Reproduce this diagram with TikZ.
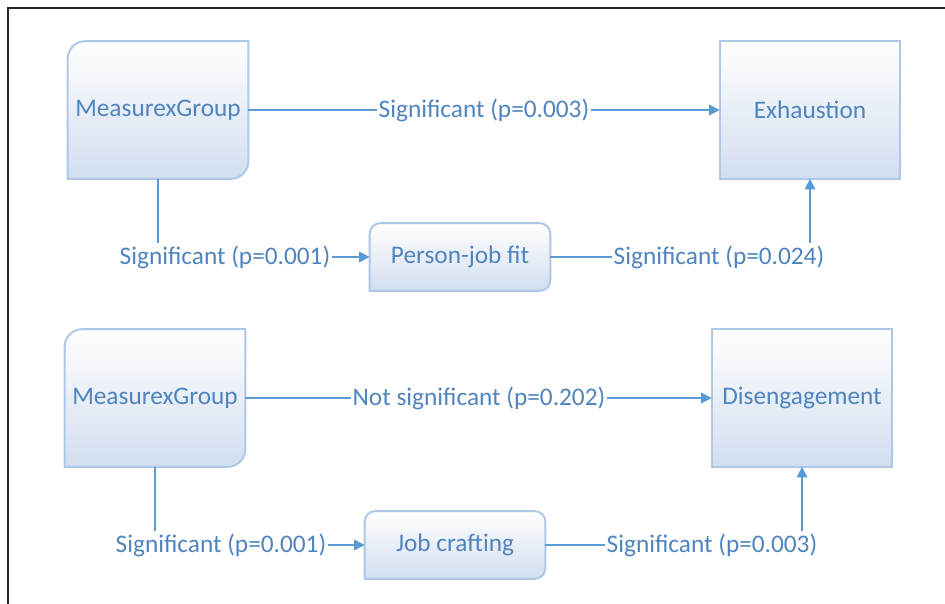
\documentclass[tikz,border=0pt]{standalone}
\usepackage{fontspec}
\setmainfont{Carlito}
\usetikzlibrary{arrows.meta,positioning}

\definecolor{linkblue}{RGB}{91,155,213}
\definecolor{textblue}{RGB}{79,132,190}
\definecolor{boxedge}{RGB}{172,199,232}
\definecolor{boxfill}{RGB}{210,222,239}

\tikzset{
  varbox/.style={text=textblue, inner sep=0pt,
    minimum width=3.6cm, minimum height=2.74cm, font=\fontsize{14.4}{16}\selectfont},
  medbox/.style={varbox, minimum height=1.34cm},
  boxpaint/.style={draw=boxedge, line width=1.1pt, top color=white,
    middle color=boxfill, bottom color=boxfill},
  plab/.style={text=textblue, inner sep=1pt, font=\fontsize{14.4}{16}\selectfont},
  link/.style={draw=linkblue, line width=1.1pt},
  arr/.style={link, -{Triangle[length=6pt,width=6pt]}}
}

% outlines: rounded top left and bottom right
\newcommand{\causeframe}[1]{%
  \path[boxpaint] (#1.north) -- (#1.north east) [rounded corners=10pt] -- (#1.south east)
    [sharp corners] -- (#1.south west) [rounded corners=10pt] -- (#1.north west)
    [sharp corners] -- cycle;}
% outlines: all rounded but bottom left
\newcommand{\medframe}[1]{%
  \path[boxpaint] (#1.north) [rounded corners=6pt] -- (#1.north east) -- (#1.south east)
    [sharp corners] -- (#1.south west) [rounded corners=6pt] -- (#1.north west)
    [sharp corners] -- cycle;}
\newcommand{\outframe}[1]{%
  \path[boxpaint] (#1.north west) rectangle (#1.south east);}

\begin{document}
\begin{tikzpicture}[x=0.02cm, y=-0.02cm]
  \useasboundingbox (0,0) rectangle (945,604);
  \draw[black!85, line width=1.2pt] (8,604) -- (8,8) -- (945,8);

  % exhaustion model
  \node[varbox] (mgA) at (158,110) {};
  \node[varbox] (exhaustion) at (810,110) {};
  \node[medbox] (pjfit) at (460,257) {};
  \causeframe{mgA} \outframe{exhaustion} \medframe{pjfit}
  \node[varbox] at (mgA) {MeasurexGroup};
  \node[varbox] at (exhaustion) {Exhaustion};
  \node[medbox] at (pjfit) {Person-job fit};

  \node[plab] (pA) at (484,110) {Significant (p=0.003)};
  \node[plab] (pB) at (225,257) {Significant (p=0.001)};
  \node[plab] (pC) at (719,257) {Significant (p=0.024)};

  \draw[link] (mgA) -- (pA);
  \draw[arr] (pA) -- (exhaustion);
  \draw[link] (mgA.south) -- (mgA.south |- pB.north);
  \draw[arr] (pB) -- (pjfit);
  \draw[link] (pjfit) -- (pC);
  \draw[arr] (exhaustion.south |- pC.north) -- (exhaustion.south);

  % disengagement model
  \node[varbox] (mgB) at (155,398) {};
  \node[varbox] (disengage) at (802,398) {};
  \node[medbox] (jobcraft) at (455,545) {};
  \causeframe{mgB} \outframe{disengage} \medframe{jobcraft}
  \node[varbox] at (mgB) {MeasurexGroup};
  \node[varbox] at (disengage) {Disengagement};
  \node[medbox] at (jobcraft) {Job crafting};

  \node[plab] (pD) at (479,398) {Not significant (p=0.202)};
  \node[plab] (pE) at (221,545) {Significant (p=0.001)};
  \node[plab] (pF) at (712,545) {Significant (p=0.003)};

  \draw[link] (mgB) -- (pD);
  \draw[arr] (pD) -- (disengage);
  \draw[link] (mgB.south) -- (mgB.south |- pE.north);
  \draw[arr] (pE) -- (jobcraft);
  \draw[link] (jobcraft) -- (pF);
  \draw[arr] (disengage.south |- pF.north) -- (disengage.south);
\end{tikzpicture}
\end{document}
